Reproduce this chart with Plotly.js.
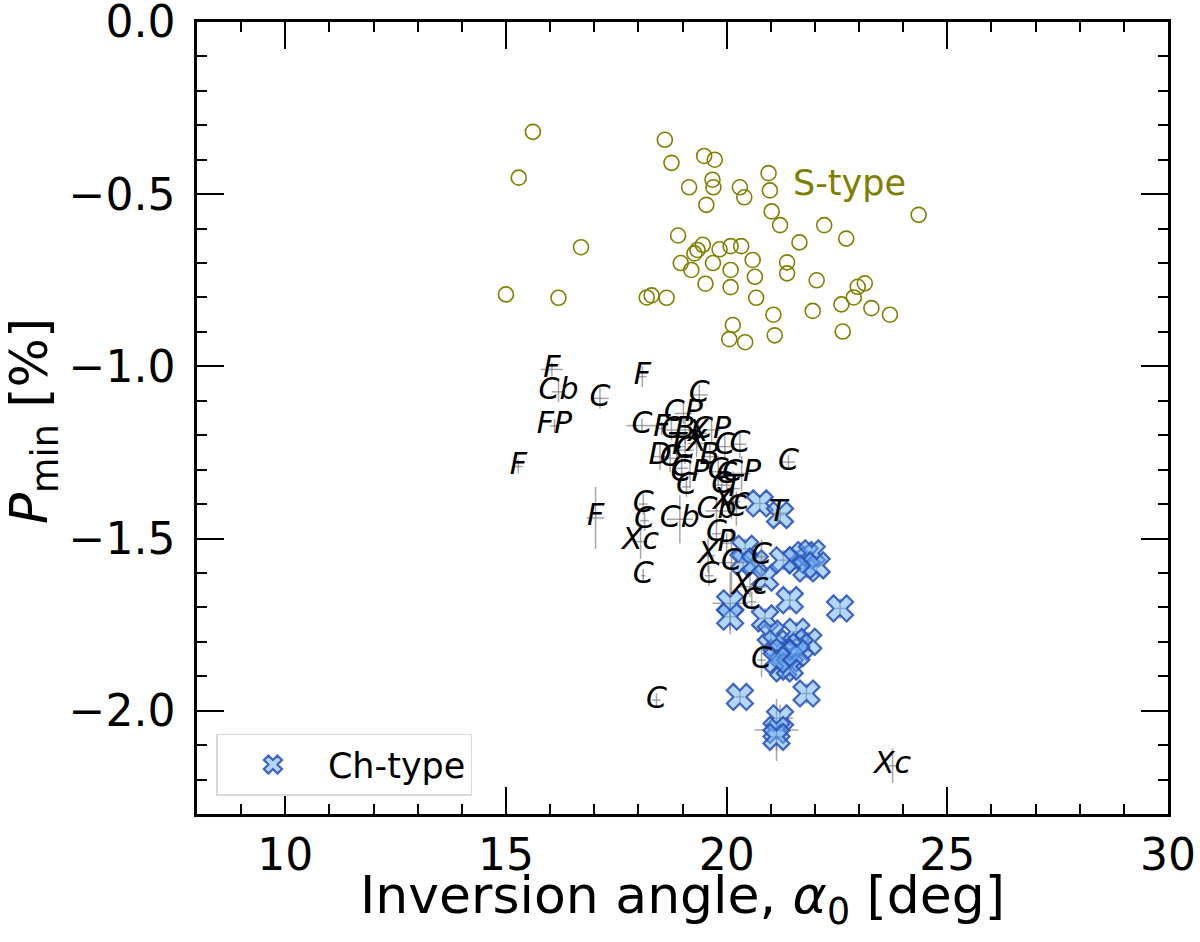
<!DOCTYPE html>
<html>
<head>
<meta charset="utf-8">
<script src="https://cdn.plot.ly/plotly-3.0.1.min.js"></script>
<style>
  body { margin: 0; background: #fff; }
  #chart { width: 1200px; height: 942px; }
</style>
</head>
<body>
<div id="chart"></div>
<script>
// S-type asteroids (open circles)
var sAlpha = [15.61, 15.29, 16.70, 15.00, 16.19, 18.60, 18.75, 19.49, 19.73, 19.68,
              19.15, 19.70, 20.30, 20.40, 19.54, 20.95, 20.98, 21.02, 21.21, 22.21,
              22.71, 24.35, 21.65, 18.90, 19.46, 19.34, 19.27, 19.84, 20.09, 20.33,
              18.96, 19.20, 19.69, 20.09, 20.59, 20.64, 21.37, 21.37, 22.04, 23.13,
              22.97, 22.88, 22.60, 23.28, 23.70, 21.95, 22.63, 19.52, 20.09, 20.67,
              21.06, 21.09, 20.14, 20.06, 20.42, 18.19, 18.30, 18.64];
var sPmin = [-0.319, -0.452, -0.654, -0.791, -0.801, -0.342, -0.409, -0.389, -0.400, -0.458,
             -0.480, -0.480, -0.480, -0.509, -0.531, -0.439, -0.489, -0.550, -0.590, -0.590,
             -0.629, -0.560, -0.640, -0.620, -0.647, -0.662, -0.672, -0.660, -0.651, -0.651,
             -0.700, -0.720, -0.700, -0.720, -0.691, -0.740, -0.698, -0.730, -0.750, -0.759,
             -0.769, -0.800, -0.820, -0.831, -0.850, -0.839, -0.899, -0.760, -0.770, -0.801,
             -0.850, -0.910, -0.880, -0.921, -0.930, -0.800, -0.794, -0.801];

// other classes, drawn as their taxonomy letters
var tClass = ['F', 'Cb', 'C', 'FP', 'F', 'F', 'C', 'CP', 'C', 'F',
              'C', 'B', 'X', 'CP', 'T', 'X', 'D', 'C', 'C', 'B',
              'C', 'C', 'C', 'CP', 'C', 'C', 'C', 'C', 'CP', 'T',
              'Xc', 'Cb', 'C', 'C', 'T', 'F', 'C', 'C', 'Xc', 'C',
              'Cb', 'C', 'P', 'X', 'C', 'C', 'C', 'Xc', 'C', 'C',
              'C', 'Xc'];
var tAlpha = [16.04, 16.19, 17.13, 16.10, 15.28, 18.09, 19.38, 19.02, 18.08, 18.53,
              18.75, 19.06, 19.36, 19.66, 18.87, 19.32, 18.49, 18.72, 19.06, 19.62,
              19.96, 20.30, 18.98, 19.17, 19.09, 19.81, 19.89, 20.00, 20.34, 20.15,
              20.11, 19.77, 20.22, 21.40, 21.17, 17.03, 18.11, 18.14, 18.05, 18.11,
              18.94, 19.77, 20.00, 19.58, 19.60, 20.11, 20.79, 20.53, 20.57, 20.79,
              18.41, 23.76];
var tPmin = [-1.009, -1.074, -1.093, -1.173, -1.291, -1.030, -1.083, -1.137, -1.172, -1.180,
             -1.185, -1.185, -1.195, -1.185, -1.233, -1.224, -1.262, -1.267, -1.243, -1.262,
             -1.233, -1.226, -1.296, -1.311, -1.350, -1.306, -1.345, -1.316, -1.311, -1.355,
             -1.393, -1.420, -1.413, -1.278, -1.427, -1.440, -1.400, -1.448, -1.509, -1.608,
             -1.444, -1.486, -1.514, -1.550, -1.608, -1.570, -1.553, -1.640, -1.684, -1.853,
             -1.969, -2.160];
var tAlphaErr = [0.25, 0.15, 0.20, 0.10, 0.10, 0.10, 0.20, 0.20, 0.35, 0.10,
                 0.20, 0.20, 0.20, 0.20, 0.20, 0.20, 0.20, 0.20, 0.20, 0.20,
                 0.20, 0.15, 0.15, 0.20, 0.10, 0.20, 0.20, 0.20, 0.20, 0.15,
                 0.20, 0.25, 0.15, 0.15, 0.20, 0.20, 0.10, 0.10, 0.15, 0.05,
                 0.30, 0.10, 0.10, 0.15, 0.10, 0.30, 0.10, 0.30, 0.10, 0.10,
                 0.10, 0.10];
var tPminErr = [0.02, 0.03, 0.03, 0.02, 0.02, 0.03, 0.03, 0.03, 0.02, 0.02,
                0.03, 0.04, 0.04, 0.04, 0.04, 0.04, 0.04, 0.04, 0.04, 0.04,
                0.04, 0.04, 0.03, 0.04, 0.03, 0.04, 0.04, 0.04, 0.05, 0.05,
                0.05, 0.04, 0.05, 0.02, 0.03, 0.09, 0.03, 0.03, 0.05, 0.02,
                0.07, 0.03, 0.03, 0.05, 0.03, 0.10, 0.05, 0.03, 0.03, 0.05,
                0.02, 0.05];

// Ch-type asteroids (crosses)
var chAlpha = [20.75, 21.21, 20.42, 20.38, 20.64, 20.87, 21.28, 21.58, 21.77, 21.93,
               21.81, 22.04, 21.43, 22.57, 20.08, 20.08, 20.87, 21.00, 21.13, 21.58,
               21.85, 21.66, 21.28, 21.43, 21.28, 21.43, 21.58, 21.13, 21.81, 20.30,
               21.21, 21.13, 21.13];
var chPmin = [-1.398, -1.432, -1.530, -1.567, -1.572, -1.614, -1.563, -1.563, -1.548, -1.543,
              -1.587, -1.578, -1.679, -1.703, -1.688, -1.727, -1.732, -1.776, -1.805, -1.771,
              -1.800, -1.814, -1.829, -1.848, -1.877, -1.872, -1.833, -1.853, -1.950, -1.960,
              -2.022, -2.056, -2.076];
var chAlphaErr = [0.15, 0.10, 0.15, 0.20, 0.15, 0.10, 0.10, 0.10, 0.10, 0.10,
                  0.10, 0.10, 0.10, 0.10, 0.40, 0.15, 0.15, 0.10, 0.15, 0.10,
                  0.10, 0.10, 0.20, 0.10, 0.10, 0.10, 0.10, 0.15, 0.10, 0.10,
                  0.30, 0.50, 0.15];
var chPminErr = [0.02, 0.02, 0.03, 0.03, 0.03, 0.03, 0.03, 0.03, 0.03, 0.03,
                 0.03, 0.03, 0.03, 0.03, 0.09, 0.04, 0.03, 0.03, 0.03, 0.03,
                 0.03, 0.03, 0.03, 0.03, 0.03, 0.03, 0.03, 0.03, 0.03, 0.02,
                 0.04, 0.09, 0.04];

var xTicks = [10, 15, 20, 25, 30];
var yTicks = [0, -0.5, -1.0, -1.5, -2.0];
var yLabels = ['0.0', '\u22120.5', '\u22121.0', '\u22121.5', '\u22122.0'];

var font = 'DejaVu Sans, Liberation Sans, sans-serif';
var errGrey = 'rgba(120,120,120,0.65)';

var sTrace = {
  x: sAlpha, y: sPmin,
  mode: 'markers', type: 'scatter',
  marker: {symbol: 'circle-open', size: 15, color: '#808000', line: {width: 1.6, color: '#808000'}},
  showlegend: false, hoverinfo: 'x+y'
};

var chTrace = {
  x: chAlpha, y: chPmin,
  mode: 'markers', type: 'scatter',
  name: 'Ch-type',
  error_x: {type: 'data', array: chAlphaErr, color: errGrey, thickness: 1.5, width: 0},
  error_y: {type: 'data', array: chPminErr, color: errGrey, thickness: 1.5, width: 0},
  marker: {symbol: 'x', size: 23, color: 'rgba(106,174,240,0.5)',
           line: {width: 2.2, color: 'rgba(45,85,185,0.9)'}}
};

var letterTrace = {
  x: tAlpha, y: tPmin, text: tClass,
  mode: 'text', type: 'scatter',
  textposition: 'middle center',
  textfont: {family: font, size: 30, color: 'black', style: 'italic'},
  error_x: {type: 'data', array: tAlphaErr, color: errGrey, thickness: 1.5, width: 0},
  error_y: {type: 'data', array: tPminErr, color: errGrey, thickness: 1.5, width: 0},
  showlegend: false
};

var data = [sTrace, chTrace, letterTrace];

var layout = {
  width: 1200, height: 942,
  margin: {l: 197, r: 32, t: 22, b: 128},
  paper_bgcolor: 'white', plot_bgcolor: 'white',
  font: {family: font, color: 'black'},
  xaxis: {
    range: [8, 30], tickvals: xTicks, ticks: 'inside', ticklen: 27, tickwidth: 2,
    tickcolor: 'black', showline: true, linecolor: 'black', linewidth: 2.5,
    mirror: 'allticks', showgrid: false, zeroline: false,
    tickfont: {size: 44}, ticklabelstandoff: 0, ticklabeloverflow: 'allow',
    minor: {dtick: 1, tick0: 0, ticks: 'inside', ticklen: 10, tickwidth: 1.5, tickcolor: 'black', showgrid: false}
  },
  yaxis: {
    range: [-2.3, 0], tickvals: yTicks, ticktext: yLabels, ticks: 'inside', ticklen: 27, tickwidth: 2,
    tickcolor: 'black', showline: true, linecolor: 'black', linewidth: 2.5,
    mirror: 'allticks', showgrid: false, zeroline: false,
    tickfont: {size: 44}, ticklabelstandoff: 10, ticklabeloverflow: 'allow',
    minor: {dtick: 0.1, tick0: 0, ticks: 'inside', ticklen: 10, tickwidth: 1.5, tickcolor: 'black', showgrid: false}
  },
  legend: {
    x: 0.02, y: 0.023, xanchor: 'left', yanchor: 'bottom',
    bgcolor: 'white', bordercolor: '#d9d9d9', borderwidth: 1.5,
    font: {size: 35}, itemwidth: 100
  },
  annotations: [
    {x: 22.79, y: -0.468, xref: 'x', yref: 'y', text: 'S-type', showarrow: false,
     font: {size: 35, color: '#808000'}},
    // axis titles placed by hand so they sit where the reference has them
    {x: 0.5, y: -0.062, xref: 'paper', yref: 'paper', xanchor: 'center', yanchor: 'top',
     text: 'Inversion angle, <i>\u03b1</i><sub>0</sub> [deg]', showarrow: false,
     font: {size: 52}},
    {x: -0.168, y: 0.497, xref: 'paper', yref: 'paper', xanchor: 'center', yanchor: 'middle',
     text: '<i>P</i><sub>min</sub> [%]', textangle: -90, showarrow: false,
     font: {size: 52}}
  ]
};

Plotly.newPlot('chart', data, layout, {displayModeBar: false});
</script>
</body>
</html>
